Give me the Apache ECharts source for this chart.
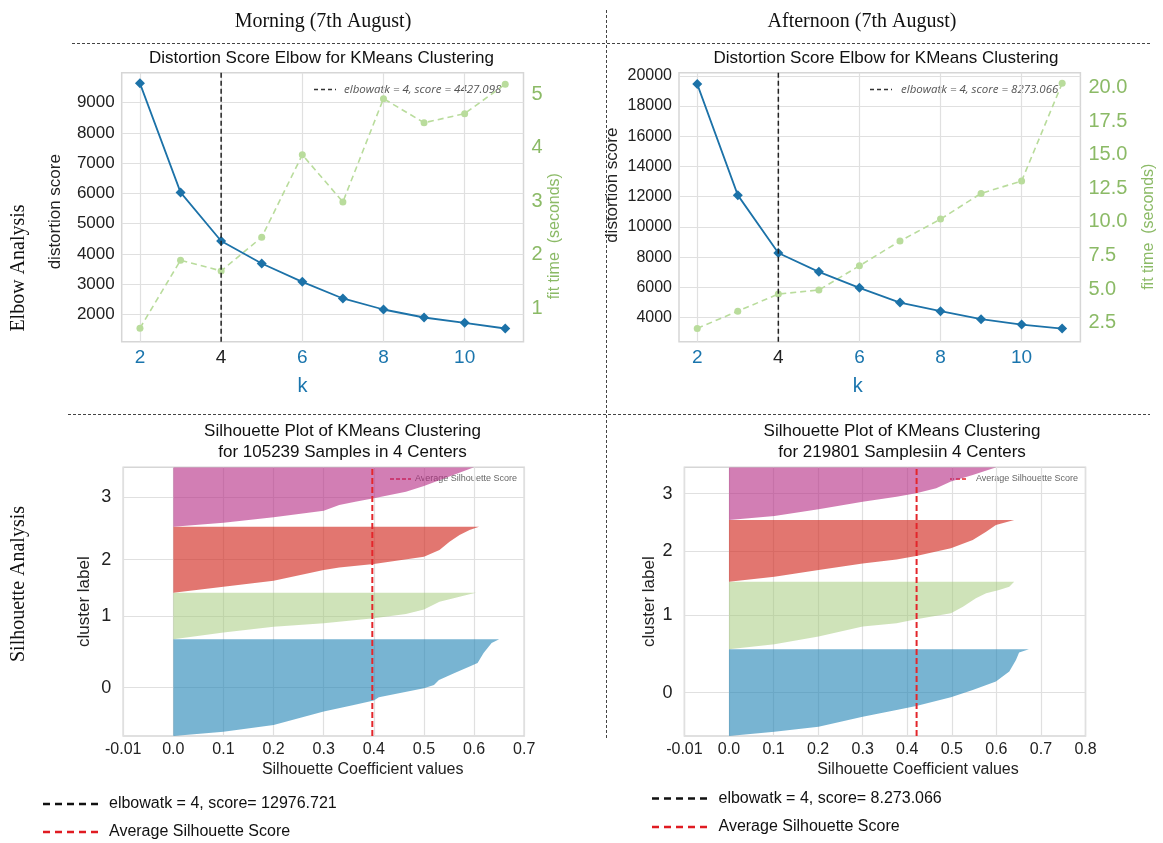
<!DOCTYPE html>
<html lang="en">
<head>
<meta charset="UTF-8">
<title>KMeans elbow and silhouette</title>
<script src="https://cdn.jsdelivr.net/npm/echarts@6/dist/echarts.min.js"></script>
<style>
    html, body { margin: 0; padding: 0; background: #fff; }
    #main { width: 1163px; height: 843px; }
</style>
</head>
<body>
<div id="main"></div>
<script>
    // ---- elbow data (k = 2..11)
    var kValues = [2, 3, 4, 5, 6, 7, 8, 9, 10, 11];
    var amDistortion = [9639, 6034, 4427, 3686, 3079, 2528, 2164, 1900, 1723, 1536];
    var amFitTime = [0.63, 1.90, 1.70, 2.33, 3.87, 2.99, 4.92, 4.47, 4.64, 5.19];
    var pmDistortion = [19457, 12104, 8273, 7024, 5964, 4993, 4419, 3889, 3536, 3271];
    var pmFitTime = [2.09, 3.37, 4.64, 4.94, 6.74, 8.58, 10.21, 12.12, 13.04, 20.30];
    var elbowK = 4;
    var amElbowScore = '4427.098';
    var pmElbowScore = '8273.066';

    // tick labels
    var kTicks = [2, 4, 6, 8, 10];
    var amDistTicks = [2000, 3000, 4000, 5000, 6000, 7000, 8000, 9000];
    var amTimeTicks = [1, 2, 3, 4, 5];
    var pmDistTicks = [4000, 6000, 8000, 10000, 12000, 14000, 16000, 18000, 20000];
    var pmTimeTicks = [2.5, 5, 7.5, 10, 12.5, 15, 17.5, 20];
    var amSilTicks = [-0.1, 0, 0.1, 0.2, 0.3, 0.4, 0.5, 0.6, 0.7];
    var pmSilTicks = [-0.1, 0, 0.1, 0.2, 0.3, 0.4, 0.5, 0.6, 0.7, 0.8];

    // ---- silhouette data: band edges (% of axis) and profiles [fraction up the band, coefficient]
    var amBounds = [0, 36.0, 53.3, 77.9, 100];
    var pmBounds = [0, 32.3, 57.4, 80.4, 100];
    var amAvgSil = 0.397;
    var pmAvgSil = 0.421;

    var amSil0 = [[0, 0], [0.045, 0.1], [0.114, 0.2], [0.252, 0.3], [0.321, 0.36], [0.366, 0.40], [0.4, 0.41], [0.452, 0.46], [0.493, 0.5], [0.528, 0.52], [0.579, 0.53], [0.648, 0.56], [0.717, 0.59], [0.755, 0.607], [0.859, 0.619], [0.962, 0.635], [1, 0.65]];
    var amSil1 = [[0, 0], [0.143, 0.1], [0.271, 0.2], [0.343, 0.3], [0.45, 0.4], [0.543, 0.464], [0.643, 0.5], [0.807, 0.531], [0.914, 0.571], [0.971, 0.591], [1, 0.604]];
    var amSil2 = [[0, 0], [0.091, 0.1], [0.182, 0.2], [0.343, 0.3], [0.384, 0.331], [0.434, 0.4], [0.545, 0.5], [0.646, 0.531], [0.773, 0.551], [0.874, 0.571], [0.95, 0.591], [1, 0.61]];
    var amSil3 = [[0, 0], [0.067, 0.1], [0.157, 0.2], [0.27, 0.3], [0.365, 0.331], [0.421, 0.363], [0.478, 0.4], [0.59, 0.464], [0.685, 0.5], [1, 0.6]];

    var pmSil0 = [[0, 0], [0.05, 0.102], [0.108, 0.201], [0.223, 0.3], [0.3, 0.376], [0.346, 0.42], [0.446, 0.498], [0.531, 0.547], [0.627, 0.599], [0.742, 0.629], [0.877, 0.644], [0.962, 0.651], [1, 0.673]];
    var pmSil1 = [[0, 0], [0.074, 0.102], [0.187, 0.201], [0.335, 0.3], [0.384, 0.376], [0.443, 0.42], [0.532, 0.498], [0.631, 0.525], [0.754, 0.554], [0.828, 0.577], [0.877, 0.606], [0.926, 0.629], [1, 0.64]];
    var pmSil2 = [[0, 0], [0.081, 0.102], [0.189, 0.201], [0.297, 0.3], [0.362, 0.376], [0.416, 0.42], [0.541, 0.498], [0.676, 0.547], [0.811, 0.577], [0.919, 0.599], [1, 0.64]];
    var pmSil3 = [[0, 0], [0.076, 0.102], [0.203, 0.201], [0.348, 0.3], [0.443, 0.376], [0.506, 0.42], [0.601, 0.465], [0.728, 0.498], [0.854, 0.547], [1, 0.6]];

    var silColors = ['rgba(30,130,180,0.6)', 'rgba(160,200,115,0.5)', 'rgba(210,45,35,0.65)', 'rgba(180,40,130,0.6)'];

    var SANS = '"Liberation Sans", Arial, sans-serif';
    var SERIF = '"Liberation Serif", "Times New Roman", serif';
    var BLUE = '#1a75ad';
    var GREEN = '#8bba66';
    var GRIDC = '#e0e0e0';

    var chart = echarts.init(document.getElementById('main'));

    function pairs(xs, ys) {
        return xs.map(function (x, i) { return [x, ys[i]]; });
    }
    function centers(b) {
        var c = [];
        for (var i = 0; i < b.length - 1; i++) c.push((b[i] + b[i + 1]) / 2);
        return c;
    }
    var amCenters = centers(amBounds);
    var pmCenters = centers(pmBounds);

    function gridBox(l, t, w, h) {
        return { left: l, top: t, width: w, height: h, show: true, borderColor: '#d6d6d6', borderWidth: 1.5,
            backgroundColor: '#fff', containLabel: false, outerBoundsMode: 'none' };
    }

    function kAxis(gi, namePad) {
        return {
            type: 'value', gridIndex: gi, min: 1.55, max: 11.45,
            axisLine: { show: false }, axisTick: { show: false, customValues: kTicks },
            splitLine: { show: true, lineStyle: { color: GRIDC, width: 1.2 } },
            axisLabel: { customValues: kTicks, fontSize: 19, fontFamily: SANS, margin: 7,
                color: function (v) { return Number(v) === elbowK ? '#222' : BLUE; } },
            name: 'k', nameLocation: 'middle', nameGap: 35,
            nameTextStyle: { color: BLUE, fontSize: 20, fontFamily: SANS, padding: namePad }
        };
    }
    function distAxis(gi, min, max, ticks, gap, pad, fs) {
        return {
            type: 'value', gridIndex: gi, min: min, max: max, position: 'left',
            axisLine: { show: false }, axisTick: { show: false, customValues: ticks },
            splitLine: { show: true, lineStyle: { color: GRIDC, width: 1.2 } },
            axisLabel: { customValues: ticks, fontSize: fs, fontFamily: SANS, color: '#222', margin: 7,
                formatter: function (v) { return String(Math.round(Number(v))); } },
            name: 'distortion score', nameLocation: 'middle', nameGap: gap,
            nameTextStyle: { color: '#222', fontSize: 17, fontFamily: SANS, padding: pad }
        };
    }
    function timeAxis(gi, min, max, ticks, digits, gap, pad) {
        return {
            type: 'value', gridIndex: gi, min: min, max: max, position: 'right',
            axisLine: { show: false }, axisTick: { show: false, customValues: ticks },
            splitLine: { show: false },
            axisLabel: { customValues: ticks, fontSize: 20, fontFamily: SANS, color: GREEN, margin: 8,
                formatter: function (v) { return Number(v).toFixed(digits); } },
            name: 'fit time  (seconds)', nameLocation: 'middle', nameGap: gap,
            nameTextStyle: { color: GREEN, fontSize: 16, fontFamily: SANS, padding: pad }
        };
    }
    function silXAxis(gi, max, ticks, pad) {
        return {
            type: 'value', gridIndex: gi, min: -0.1, max: max,
            axisLine: { show: false }, axisTick: { show: false, customValues: ticks },
            splitLine: { show: true, lineStyle: { color: GRIDC, width: 1.2 } },
            axisLabel: { customValues: ticks, fontSize: 16, fontFamily: SANS, color: '#222', margin: 6,
                formatter: function (v) { return Number(v) < 0 ? '-0.01' : Number(v).toFixed(1); } },
            name: 'Silhouette Coefficient values', nameLocation: 'middle', nameGap: 26,
            nameTextStyle: { color: '#222', fontSize: 16, fontFamily: SANS, padding: pad }
        };
    }
    function silYAxis(gi, cs, gap) {
        return {
            type: 'value', gridIndex: gi, min: 0, max: 100,
            axisLine: { show: false }, axisTick: { show: false, customValues: cs },
            splitLine: { show: true, lineStyle: { color: GRIDC, width: 1.2 } },
            axisLabel: { customValues: cs, fontSize: 18, fontFamily: SANS, color: '#222', margin: 12,
                formatter: function (v) { return String(cs.indexOf(Number(v))); } },
            name: 'cluster label', nameLocation: 'middle', nameGap: gap,
            nameTextStyle: { color: '#222', fontSize: 17, fontFamily: SANS }
        };
    }

    function elbowSeries(xi, yi, dist, time, yMin, yMax) {
        return [
            { type: 'line', xAxisIndex: xi, yAxisIndex: yi, data: pairs(kValues, dist),
              symbol: 'diamond', symbolSize: 10, color: '#1c72a8',
              lineStyle: { color: '#1c72a8', width: 1.8 }, itemStyle: { color: '#1c72a8' }, z: 4 },
            { type: 'line', xAxisIndex: xi, yAxisIndex: yi + 1, data: pairs(kValues, time),
              symbol: 'circle', symbolSize: 7,
              lineStyle: { color: '#b9dc9c', width: 1.6, type: [6, 4] }, itemStyle: { color: '#b9dc9c' }, z: 3 },
            { type: 'line', xAxisIndex: xi, yAxisIndex: yi, data: [[elbowK, yMin], [elbowK, yMax]],
              symbol: 'none', lineStyle: { color: '#222', width: 1.5, type: [5, 3] }, z: 5 }
        ];
    }

    function silSeries(xi, yi, bounds, profiles, avg) {
        var out = profiles.map(function (prof, ci) {
            var lo = bounds[ci], hi = bounds[ci + 1];
            return {
                type: 'custom', xAxisIndex: xi, yAxisIndex: yi, data: [[0, lo]], clip: true, z: 2,
                renderItem: function (params, api) {
                    var pts = [api.coord([0, lo])];
                    prof.forEach(function (p) { pts.push(api.coord([p[1], lo + p[0] * (hi - lo)])); });
                    pts.push(api.coord([0, hi]));
                    return { type: 'polygon', shape: { points: pts }, style: { fill: silColors[ci] } };
                }
            };
        });
        out.push({ type: 'line', xAxisIndex: xi, yAxisIndex: yi, data: [[avg, 0], [avg, 100]], symbol: 'none',
            lineStyle: { color: '#e3262b', width: 2, type: [6, 3] }, z: 6 });
        return out;
    }

    function txt(x, y, s, font, color, align, extra) {
        var el = { type: 'text', x: x, y: y, silent: true,
            style: { text: s, font: font, fill: color || '#111', align: align || 'center', verticalAlign: 'middle' } };
        if (extra) for (var k in extra) el[k] = extra[k];
        return el;
    }
    function dash(x1, x2, y, color, w, d) {
        return { type: 'line', silent: true, shape: { x1: x1, y1: y, x2: x2, y2: y },
            style: { stroke: color, lineWidth: w, lineDash: d } };
    }
    function vdash(x, y1, y2) {
        return { type: 'line', silent: true, shape: { x1: x, y1: y1, x2: x, y2: y2 },
            style: { stroke: '#444', lineWidth: 1, lineDash: [3, 2] } };
    }

    var graphics = [
        // separators
        dash(72, 1150, 43.5, '#444', 1, [3, 2]),
        dash(68, 1150, 414.5, '#444', 1, [3, 2]),
        vdash(606.5, 10, 740),
        // column / row headings
        txt(323, 21.5, 'Morning (7th August)', '20px ' + SERIF, '#111'),
        txt(862, 21.5, 'Afternoon (7th August)', '20px ' + SERIF, '#111'),
        txt(19, 268, 'Elbow Analysis', '20px ' + SERIF, '#111', 'center', { rotation: Math.PI / 2 }),
        txt(19, 584, 'Silhouette Analysis', '20px ' + SERIF, '#111', 'center', { rotation: Math.PI / 2 }),
        // chart titles
        txt(321.5, 58.5, 'Distortion Score Elbow for KMeans Clustering', '17px ' + SANS, '#111'),
        txt(886, 58.5, 'Distortion Score Elbow for KMeans Clustering', '17px ' + SANS, '#111'),
        txt(342.5, 431, 'Silhouette Plot of KMeans Clustering', '17px ' + SANS, '#111'),
        txt(342.5, 452, 'for 105239 Samples in 4 Centers', '17px ' + SANS, '#111'),
        txt(902, 431, 'Silhouette Plot of KMeans Clustering', '17px ' + SANS, '#111'),
        txt(902, 452, 'for 219801 Samplesiin 4 Centers', '17px ' + SANS, '#111'),
        // in-plot legends
        dash(314, 336, 89.5, '#333', 1.5, [4, 3]),
        txt(344, 89.5, 'elbowatk = ' + elbowK + ', score = ' + amElbowScore, 'italic 11.5px "Open Sans", ' + SANS, '#555', 'left'),
        dash(870, 892, 89.5, '#333', 1.5, [4, 3]),
        txt(901, 89.5, 'elbowatk = ' + elbowK + ', score = ' + pmElbowScore, 'italic 11.5px "Open Sans", ' + SANS, '#555', 'left'),
        dash(390, 411, 479, '#e3262b', 1.5, [4, 2]),
        txt(415, 479, 'Average Silhouette Score', '9px ' + SANS, '#666', 'left'),
        dash(950, 968, 479, '#e3262b', 1.5, [4, 2]),
        txt(976, 479, 'Average Silhouette Score', '9px ' + SANS, '#666', 'left'),
        // bottom legends
        dash(43, 101, 804, '#111', 2.5, [7, 5]),
        txt(109, 804, 'elbowatk = 4, score= 12976.721', '16px ' + SANS, '#111', 'left'),
        dash(43, 101, 832, '#e01b22', 2.5, [7, 5]),
        txt(109, 832, 'Average Silhouette Score', '16px ' + SANS, '#111', 'left'),
        dash(652, 711, 798.5, '#111', 2.5, [7, 5]),
        txt(718.5, 798.5, 'elbowatk = 4, score= 8.273.066', '16px ' + SANS, '#111', 'left'),
        dash(652, 711, 827, '#e01b22', 2.5, [7, 5]),
        txt(718.5, 827, 'Average Silhouette Score', '16px ' + SANS, '#111', 'left')
    ];

    var option = {
        animation: false,
        backgroundColor: '#fff',
        grid: [
            gridBox(121.7, 72.7, 401.8, 269),
            gridBox(679, 72.7, 401.4, 269),
            gridBox(123.2, 467.3, 401, 268.7),
            gridBox(684.4, 467.3, 401.1, 268.7)
        ],
        xAxis: [
            kAxis(0, [0, 40, 0, 0]),
            kAxis(1, [0, 44, 0, 0]),
            silXAxis(2, 0.7, amSilTicks, [0, 0, 0, 78]),
            silXAxis(3, 0.8, pmSilTicks, [0, 0, 0, 66])
        ],
        yAxis: [
            distAxis(0, 1100, 9990, amDistTicks, 58, [0, 9, 0, 0], 17),
            timeAxis(0, 0.377, 5.405, amTimeTicks, 0, 22, [0, 58, 0, 0]),
            distAxis(1, 2400, 20210, pmDistTicks, 58, [0, 0, 0, 44], 16),
            timeAxis(1, 1.10, 21.09, pmTimeTicks, 1, 60, [0, 39, 0, 0]),
            silYAxis(2, amCenters, 30),
            silYAxis(3, pmCenters, 27)
        ],
        series: [].concat(
            elbowSeries(0, 0, amDistortion, amFitTime, 1100, 9990),
            elbowSeries(1, 2, pmDistortion, pmFitTime, 2400, 20210),
            silSeries(2, 4, amBounds, [amSil0, amSil1, amSil2, amSil3], amAvgSil),
            silSeries(3, 5, pmBounds, [pmSil0, pmSil1, pmSil2, pmSil3], pmAvgSil)
        ),
        graphic: graphics
    };

    chart.setOption(option);
</script>
</body>
</html>
